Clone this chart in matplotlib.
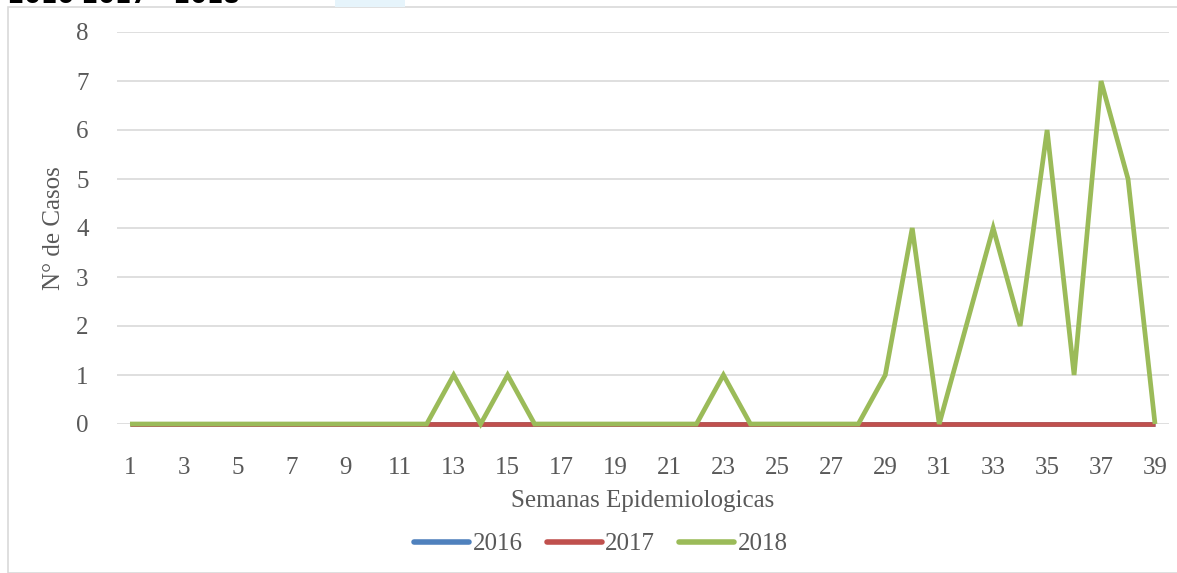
import matplotlib.pyplot as plt
from matplotlib.patches import Rectangle

weeks = list(range(1, 40))
cases_2016 = [0] * 39
cases_2017 = [0] * 39
cases_2018 = [0, 0, 0, 0, 0, 0, 0, 0, 0, 0, 0, 0,
              1, 0, 1, 0, 0, 0, 0, 0, 0, 0,
              1, 0, 0, 0, 0, 0,
              1, 4, 0, 2, 4, 2, 6, 1, 7, 5, 0]
series_names = ["2016", "2017", "2018"]
series_colors = ["#4F81BD", "#C0504D", "#9BBB59"]

plt.rcParams["font.family"] = ["Liberation Serif", "DejaVu Serif"]

fig = plt.figure(figsize=(11.77, 5.73), dpi=100)
ax = fig.add_axes([116.5 / 1177, 1 - 424 / 573, 1052 / 1177, 392 / 573])

# chart frame and cut-off heading
fig.patches.append(Rectangle((8 / 1177, 0), 1.0, 1 - 7 / 573, transform=fig.transFigure,
                             fill=False, edgecolor="#d9d9d9", linewidth=1.2))
fig.patches.append(Rectangle((335 / 1177, 1 - 7 / 573), 70 / 1177, 7 / 573,
                             transform=fig.transFigure, color="#e6f4fb", linewidth=0))
fig.text(8 / 1177, 1 - 3 / 573, "2016 2017 - 2018", family="DejaVu Sans", weight="bold",
         fontsize=17, va="baseline", ha="left", color="black")

for values, name, color in zip([cases_2016, cases_2017, cases_2018], series_names, series_colors):
    ax.plot(weeks, values, color=color, linewidth=3.4, label=name,
            solid_joinstyle="miter", solid_capstyle="butt", clip_on=False)

ax.set_xlim(0.5, 39.5)
ax.set_ylim(0, 8)
ax.set_xticks(weeks[::2])
ax.set_yticks(range(0, 9))
ax.grid(axis="y", color="#d9d9d9", linewidth=1.2)
ax.set_axisbelow(True)
for s in ax.spines.values():
    s.set_visible(False)
ax.tick_params(length=0, labelsize=18, labelcolor="#595959")
ax.tick_params(axis="x", pad=24)
ax.tick_params(axis="y", pad=20)
ax.set_xlabel("Semanas Epidemiologicas", fontsize=18, color="#595959", labelpad=8)
ax.set_ylabel("N° de Casos", fontsize=18, color="#595959", labelpad=8)

leg = fig.legend(loc="center", bbox_to_anchor=(601 / 1177, 1 - 544 / 573), ncol=3,
                 frameon=False, fontsize=18, handlelength=2.2, handletextpad=0.15,
                 columnspacing=0.95, labelcolor="#595959")
for h in leg.get_lines():
    h.set_linewidth(4)
    h.set_solid_capstyle("round")

fig.savefig("out.png", dpi=100)
